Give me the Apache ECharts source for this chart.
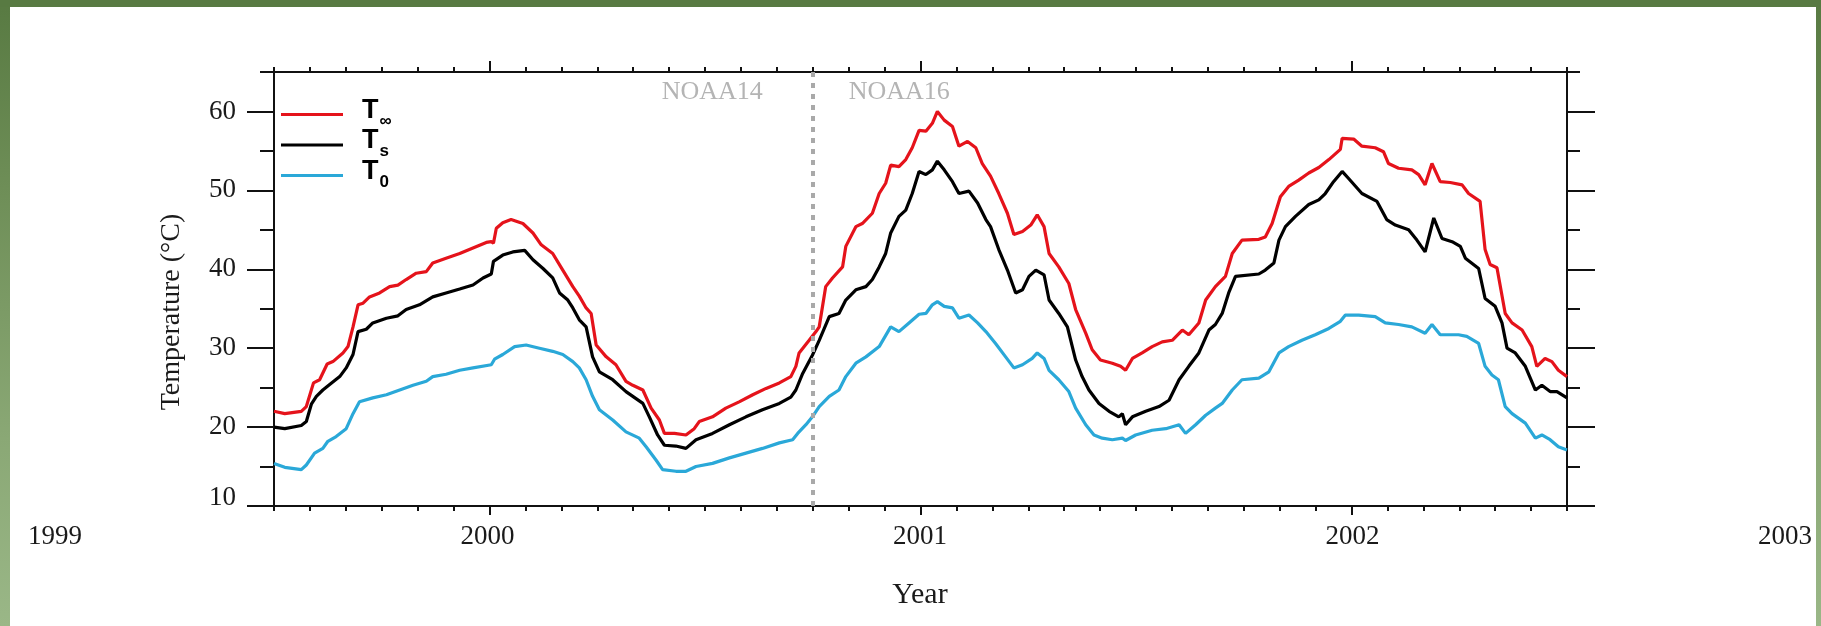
<!DOCTYPE html>
<html>
<head>
<meta charset="utf-8">
<title>Temperature</title>
<script src="https://cdn.jsdelivr.net/npm/echarts@6/dist/echarts.min.js"></script>
<style>
  html, body { margin: 0; padding: 0; }
  body {
    width: 1821px; height: 626px; overflow: hidden; position: relative;
    background: linear-gradient(to bottom, #587a42 0%, #6e8e57 30%, #8aa875 70%, #9ab787 100%);
  }
  #band { position: absolute; left: 0; top: 0; width: 1821px; height: 7px; background: #587a42; }
  #paper { position: absolute; left: 10px; top: 7px; width: 1806px; height: 619px; background: #fff; }
  #chart { position: absolute; left: 0; top: 0; width: 1821px; height: 626px; }
</style>
</head>
<body>
<div id="band"></div>
<div id="paper"></div>
<div id="chart"></div>
<script>
// time axis is in months since Jan 1999 (6 = Jul 1999, 42 = Jul 2002)
const yearLabels = ['1999', '2000', '2001', '2002', '2003'];
const satellites = ['NOAA14', 'NOAA16'];
const switchMonth = 21;

// T-infinity (red)
const tInf = [6.00,6.30,6.76,6.90,7.10,7.27,7.48,7.64,7.92,8.06,
  8.20,8.34,8.48,8.66,8.94,9.22,9.45,9.68,9.96,10.24,
  10.42,10.79,11.17,11.54,11.91,12.05,12.11,12.19,12.37,12.60,
  12.93,13.21,13.44,13.76,14.04,14.32,14.50,14.69,14.83,14.97,
  15.25,15.52,15.80,15.99,16.27,16.50,16.73,16.87,17.15,17.47,
  17.70,17.84,18.21,18.58,18.95,19.33,19.70,20.07,20.39,20.53,
  20.62,20.90,21.09,21.18,21.36,21.55,21.83,21.92,22.20,22.38,
  22.66,22.85,23.03,23.17,23.40,23.59,23.77,23.96,24.15,24.33,
  24.47,24.66,24.89,25.07,25.31,25.54,25.72,25.95,26.18,26.42,
  26.60,26.84,27.07,27.25,27.44,27.58,27.85,28.13,28.32,28.60,
  28.78,29.01,29.34,29.57,29.71,29.90,30.17,30.45,30.73,31.01,
  31.29,31.47,31.75,31.94,32.21,32.49,32.68,32.95,33.42,33.60,
  33.79,34.02,34.25,34.53,34.81,35.09,35.37,35.69,35.74,36.06,
  36.29,36.66,36.89,37.03,37.31,37.68,37.87,38.05,38.24,38.47,
  38.75,39.08,39.26,39.58,39.72,39.86,40.05,40.28,40.47,40.75,
  41.02,41.16,41.39,41.58,41.76,42.00];
const vInf = [22.0,21.7,22.0,22.6,25.6,26.0,28.0,28.3,29.4,30.2,
  32.7,35.5,35.7,36.5,37.0,37.8,38.0,38.7,39.5,39.7,
  40.8,41.4,42.0,42.7,43.4,43.5,43.3,45.2,45.9,46.3,
  45.8,44.6,43.1,42.0,39.9,37.8,36.6,35.1,34.4,30.4,
  28.9,27.9,25.8,25.3,24.7,22.4,20.9,19.2,19.2,19.0,
  19.8,20.7,21.3,22.4,23.2,24.1,24.9,25.6,26.4,27.7,
  29.4,31.0,32.1,32.7,37.8,38.9,40.3,42.9,45.4,45.8,
  47.1,49.6,50.9,53.2,53.0,53.9,55.4,57.6,57.5,58.5,
  60.0,58.9,58.1,55.6,56.2,55.4,53.4,51.8,49.6,47.1,
  44.4,44.8,45.6,46.9,45.4,42.0,40.3,38.2,34.9,31.9,
  29.8,28.5,28.1,27.7,27.2,28.7,29.4,30.2,30.8,31.0,
  32.3,31.7,33.2,36.1,37.8,39.1,42.0,43.7,43.8,44.1,
  45.8,49.2,50.5,51.3,52.2,52.9,53.9,55.2,56.6,56.5,
  55.6,55.4,54.9,53.4,52.8,52.6,52.0,50.7,53.4,51.1,
  51.0,50.7,49.6,48.6,42.5,40.6,40.2,34.4,33.2,32.3,
  30.2,27.7,28.7,28.3,27.2,26.4];

// T-s (black)
const tS = [6.00,6.30,6.76,6.90,7.04,7.18,7.36,7.55,7.83,8.01,
  8.20,8.34,8.57,8.75,9.13,9.45,9.68,10.05,10.42,10.79,
  11.17,11.54,11.82,12.05,12.11,12.37,12.65,12.98,13.21,13.49,
  13.76,13.95,14.18,14.32,14.50,14.69,14.87,15.06,15.43,15.80,
  16.27,16.45,16.68,16.87,17.19,17.47,17.75,18.21,18.68,19.14,
  19.60,20.07,20.39,20.53,20.72,20.99,21.18,21.46,21.73,21.92,
  22.20,22.48,22.66,22.85,23.03,23.17,23.40,23.59,23.77,23.96,
  24.15,24.33,24.47,24.66,24.89,25.07,25.35,25.59,25.82,25.95,
  26.18,26.42,26.65,26.84,27.02,27.21,27.44,27.58,27.85,28.09,
  28.32,28.50,28.69,28.97,29.25,29.52,29.62,29.71,29.90,30.27,
  30.64,30.92,31.20,31.47,31.75,32.03,32.21,32.40,32.58,32.77,
  33.42,33.60,33.84,33.98,34.16,34.44,34.81,35.09,35.27,35.50,
  35.74,35.92,36.29,36.71,36.98,37.22,37.59,37.82,38.05,38.29,
  38.52,38.80,39.03,39.17,39.54,39.72,40.00,40.19,40.33,40.56,
  40.84,41.12,41.30,41.53,41.72,42.00];
const vS = [20.0,19.8,20.2,20.7,22.9,23.9,24.7,25.4,26.4,27.5,
  29.2,32.1,32.4,33.2,33.8,34.1,34.9,35.5,36.5,37.0,
  37.5,38.0,38.9,39.4,41.0,41.8,42.2,42.4,41.2,40.1,
  38.9,37.0,36.1,35.1,33.6,32.7,28.9,27.0,26.0,24.5,
  23.0,21.3,19.0,17.7,17.6,17.3,18.4,19.2,20.3,21.3,
  22.2,23.0,23.8,24.7,26.8,29.1,31.0,34.0,34.4,36.1,
  37.4,37.8,38.7,40.3,42.0,44.6,46.7,47.5,49.6,52.4,
  52.0,52.6,53.7,52.6,51.1,49.6,49.9,48.4,46.3,45.4,
  42.5,39.9,37.0,37.4,39.1,39.9,39.3,36.1,34.4,32.7,
  28.5,26.4,24.7,23.0,22.0,21.3,21.7,20.3,21.3,22.0,
  22.6,23.4,26.0,27.7,29.4,32.3,33.0,34.4,37.0,39.1,
  39.4,39.9,40.8,43.7,45.4,46.7,48.2,48.8,49.6,51.1,
  52.4,51.5,49.6,48.6,46.3,45.6,45.0,43.7,42.2,46.5,
  43.9,43.5,42.9,41.4,40.1,36.3,35.3,33.2,30.0,29.4,
  27.7,24.7,25.3,24.5,24.5,23.7];

// T-0 (cyan)
const t0 = [6.00,6.30,6.76,6.90,7.13,7.36,7.50,7.73,8.01,8.20,
  8.38,8.75,9.13,9.50,9.87,10.24,10.42,10.79,11.17,11.54,
  12.05,12.14,12.37,12.70,13.02,13.39,13.76,14.04,14.32,14.50,
  14.69,14.87,15.06,15.43,15.80,16.17,16.36,16.64,16.82,17.19,
  17.47,17.75,18.21,18.68,19.14,19.60,20.07,20.44,20.58,20.81,
  20.99,21.18,21.46,21.73,21.92,22.20,22.48,22.85,23.17,23.40,
  23.68,23.96,24.15,24.33,24.47,24.66,24.89,25.07,25.35,25.59,
  25.82,26.09,26.37,26.60,26.84,27.11,27.25,27.44,27.58,27.85,
  28.13,28.32,28.60,28.83,29.06,29.34,29.62,29.71,29.99,30.45,
  30.83,31.20,31.38,31.66,31.94,32.21,32.40,32.68,32.95,33.42,
  33.70,33.98,34.25,34.62,34.99,35.37,35.69,35.83,36.20,36.66,
  36.94,37.31,37.68,38.05,38.24,38.47,38.98,39.21,39.54,39.72,
  39.91,40.09,40.28,40.47,40.84,41.12,41.30,41.53,41.76,42.00];
const v0 = [15.4,14.9,14.6,15.2,16.7,17.3,18.2,18.8,19.8,21.7,
  23.2,23.7,24.1,24.7,25.3,25.8,26.4,26.7,27.2,27.5,
  27.9,28.6,29.2,30.2,30.4,30.0,29.6,29.2,28.3,27.5,
  26.0,23.9,22.2,20.9,19.4,18.6,17.5,15.8,14.6,14.4,
  14.4,15.0,15.4,16.1,16.7,17.3,18.0,18.4,19.2,20.3,
  21.3,22.6,23.9,24.7,26.4,28.1,28.9,30.2,32.7,32.1,
  33.2,34.3,34.4,35.5,35.9,35.3,35.1,33.8,34.2,33.2,
  32.1,30.6,28.9,27.5,27.9,28.7,29.4,28.7,27.2,26.0,
  24.5,22.4,20.3,19.0,18.6,18.4,18.6,18.3,19.0,19.6,
  19.8,20.3,19.2,20.3,21.5,22.4,23.0,24.7,26.0,26.2,
  27.0,29.4,30.2,31.0,31.7,32.5,33.4,34.2,34.2,34.0,
  33.2,33.0,32.7,31.9,33.0,31.7,31.7,31.5,30.6,27.7,
  26.6,26.0,22.6,21.7,20.5,18.6,19.0,18.4,17.5,17.1];

const yMajor = [10, 20, 30, 40, 50, 60];
const xMajor = [12, 24, 36];

const serif = 'Liberation Serif';
const ink = '#111';

const pairs = (t, v) => t.map((m, i) => [m, v[i]]);

const subs = { 'T∞': '∞', 'Ts': 's', 'T0': '0' };

const line = { show: true, lineStyle: { color: ink, width: 2 } };
const noLine = { show: false };

var myChart = echarts.init(document.getElementById('chart'));
var option = {
  animation: false,
  grid: [
    { left: 274, top: 72, width: 1293, height: 434, outerBoundsMode: 'none' },
    { left: 55, top: 72, width: 1730, height: 434, outerBoundsMode: 'none' }
  ],
  legend: {
    orient: 'vertical',
    left: 281,
    top: 97,
    padding: 0,
    icon: 'rect',
    itemWidth: 62,
    itemHeight: 3,
    itemGap: -2,
    formatter: function (name) {
      return '{m|T}{s|' + subs[name] + '}';
    },
    textStyle: {
      padding: [0, 0, 8, 14],
      rich: {
        m: { fontFamily: 'Liberation Sans', fontWeight: 'bold', fontSize: 27, color: '#000', lineHeight: 24, verticalAlign: 'middle' },
        s: { fontFamily: 'Liberation Sans', fontWeight: 'bold', fontSize: 17, color: '#000', lineHeight: 6, verticalAlign: 'top', padding: [14, 0, 0, 1] }
      }
    }
  },
  xAxis: [
    { type: 'value', gridIndex: 0, position: 'bottom', min: 6, max: 42, interval: 1,
      axisLine: line, axisTick: { show: true, length: 5, lineStyle: { color: ink, width: 2 } },
      axisLabel: { show: false }, splitLine: { show: false } },
    { type: 'value', gridIndex: 0, position: 'bottom', min: 6, max: 42,
      axisLine: noLine, axisTick: { show: true, length: 9, customValues: xMajor, lineStyle: { color: ink, width: 2 } },
      axisLabel: { show: false }, splitLine: { show: false } },
    { type: 'value', gridIndex: 0, position: 'top', min: 6, max: 42, interval: 1,
      axisLine: line, axisTick: { show: true, length: 5, lineStyle: { color: ink, width: 2 } },
      axisLabel: { show: false }, splitLine: { show: false } },
    { type: 'value', gridIndex: 0, position: 'top', min: 6, max: 42,
      axisLine: noLine, axisTick: { show: true, length: 11, customValues: xMajor, lineStyle: { color: ink, width: 2 } },
      axisLabel: { show: false }, splitLine: { show: false } },
    { type: 'value', gridIndex: 1, position: 'bottom', min: 0, max: 48, interval: 12,
      axisLine: noLine, axisTick: { show: false }, splitLine: { show: false },
      axisLabel: { margin: 17, fontFamily: serif, fontSize: 27, color: '#1a1a1a',
        formatter: function (v) { return yearLabels[Math.round(v / 12)]; } },
      name: 'Year', nameLocation: 'middle', nameGap: 74,
      nameTextStyle: { fontFamily: serif, fontSize: 30, color: '#1a1a1a' } }
  ],
  yAxis: [
    { type: 'value', gridIndex: 0, position: 'left', min: 10, max: 65, interval: 5,
      axisLine: line, axisTick: { show: true, length: 14, lineStyle: { color: ink, width: 2 } },
      axisLabel: { show: false }, splitLine: { show: false } },
    { type: 'value', gridIndex: 0, position: 'left', min: 10, max: 65,
      axisLine: noLine, axisTick: { show: true, length: 27, customValues: yMajor, lineStyle: { color: ink, width: 2 } },
      axisLabel: {
        show: true, customValues: yMajor, margin: 38, fontFamily: serif, fontSize: 27, color: '#1a1a1a',
        formatter: function (v) { return v === yMajor[0] ? '{lo|' + v + '}' : String(v); },
        rich: { lo: { fontFamily: serif, fontSize: 27, color: '#1a1a1a', padding: [0, 0, 16, 0] } }
      },
      splitLine: { show: false },
      name: 'Temperature (°C)', nameLocation: 'middle', nameGap: 88,
      nameTextStyle: { fontFamily: serif, fontSize: 28, color: '#1a1a1a', padding: [0, 46, 0, 0] } },
    { type: 'value', gridIndex: 0, position: 'right', min: 10, max: 65, interval: 5,
      axisLine: line, axisTick: { show: true, length: 13, lineStyle: { color: ink, width: 2 } },
      axisLabel: { show: false }, splitLine: { show: false } },
    { type: 'value', gridIndex: 0, position: 'right', min: 10, max: 65,
      axisLine: noLine, axisTick: { show: true, length: 28, customValues: yMajor, lineStyle: { color: ink, width: 2 } },
      axisLabel: { show: false }, splitLine: { show: false } },
    { type: 'value', gridIndex: 1, min: 0, max: 1, show: false }
  ],
  series: [
    {
      name: 'T∞', type: 'line', xAxisIndex: 0, yAxisIndex: 0,
      data: pairs(tInf, vInf), symbol: 'none', showSymbol: false,
      lineStyle: { color: '#e5131b', width: 3.2 }, itemStyle: { color: '#e5131b' },
      markLine: {
        silent: true, symbol: 'none', label: { show: false },
        lineStyle: { color: '#a9a9a9', width: 4, type: [5, 6] },
        data: [{ xAxis: switchMonth }]
      },
      markPoint: {
        silent: true, symbol: 'circle', symbolSize: 0,
        label: { show: true, fontFamily: serif, fontSize: 26, color: '#b4b4b4' },
        data: [
          { coord: [switchMonth, 62.4], label: { position: 'left', distance: 50, formatter: satellites[0] } },
          { coord: [switchMonth, 62.4], label: { position: 'right', distance: 36, formatter: satellites[1] } }
        ]
      }
    },
    {
      name: 'Ts', type: 'line', xAxisIndex: 0, yAxisIndex: 0,
      data: pairs(tS, vS), symbol: 'none', showSymbol: false,
      lineStyle: { color: '#000', width: 3.2 }, itemStyle: { color: '#000' }
    },
    {
      name: 'T0', type: 'line', xAxisIndex: 0, yAxisIndex: 0,
      data: pairs(t0, v0), symbol: 'none', showSymbol: false,
      lineStyle: { color: '#2aa8d8', width: 3.2 }, itemStyle: { color: '#2aa8d8' }
    }
  ]
};
myChart.setOption(option, true);
</script>
</body>
</html>
